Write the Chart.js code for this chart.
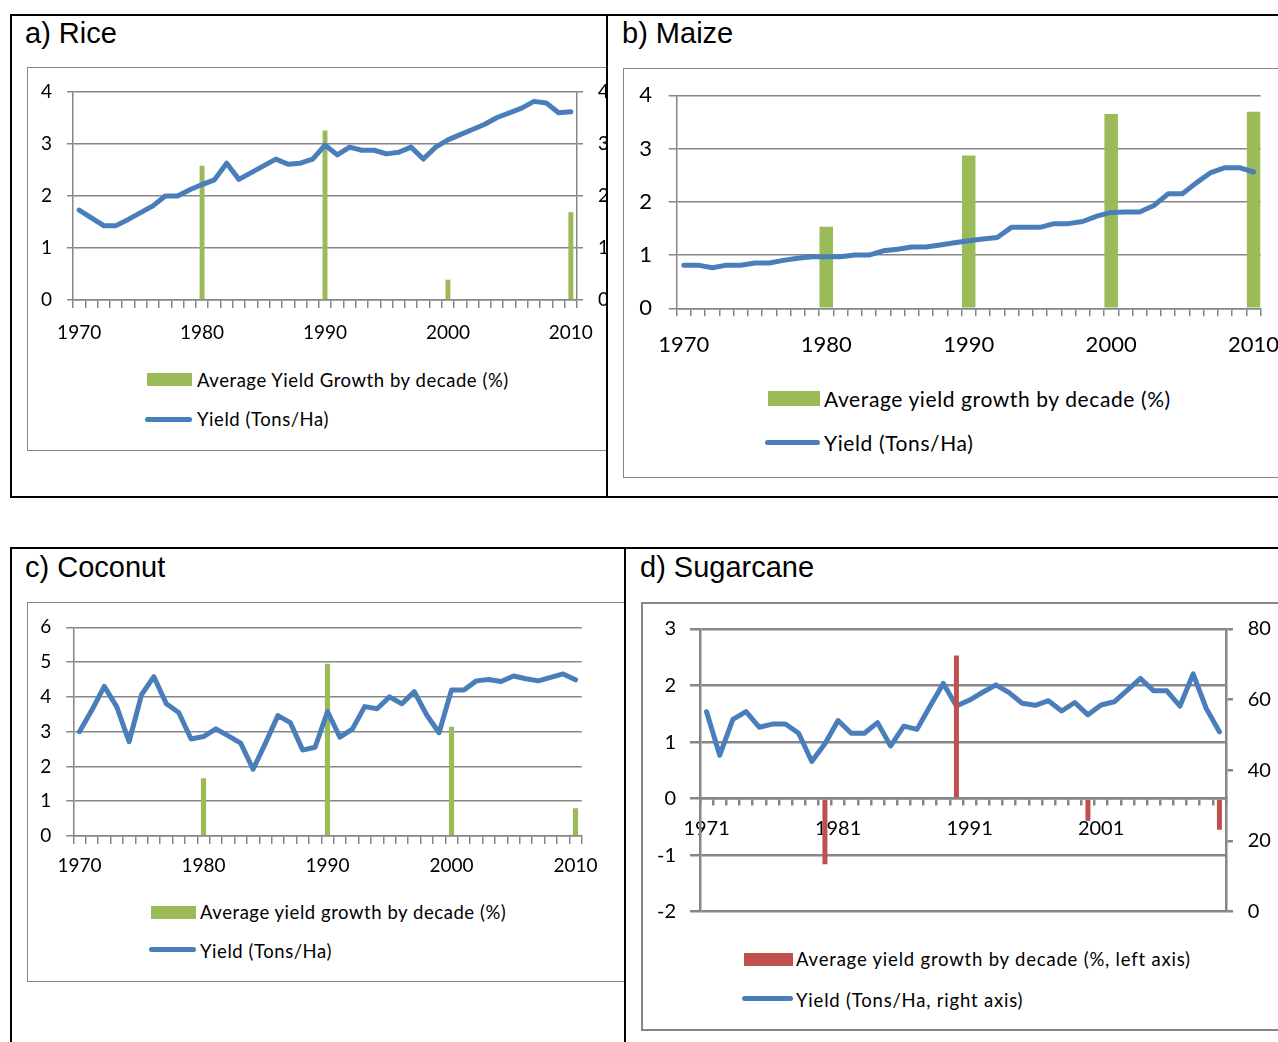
<!DOCTYPE html>
<html>
<head>
<meta charset="utf-8">
<script src="https://cdn.jsdelivr.net/npm/chart.js@4.4.1/dist/chart.umd.min.js"></script>
<style>
  html, body { margin: 0; padding: 0; background: #fff; }
  body { width: 1278px; height: 1042px; position: relative; overflow: hidden; font-family: Lato, sans-serif; }
  .box { position: absolute; border: 2px solid #000; box-sizing: border-box; z-index: 5; }
  .divider { position: absolute; width: 2px; background: #000; z-index: 6; }
  .frame { position: absolute; border: 1.5px solid #868686; box-sizing: border-box; }
  .title { position: absolute; font-family: "Liberation Sans", Arial, sans-serif; font-size: 29px; line-height: 30px; color: #000; white-space: nowrap; }
  .plot { position: absolute; }
  .leg { position: absolute; white-space: nowrap; color: #000; font-family: Lato, sans-serif; }
  .sw { position: absolute; }
  .swline { position: absolute; height: 5px; border-radius: 3px; background: #4A7EBB; }
</style>
</head>
<body>
<div class="box" style="left:10px; top:14px; width:1300px; height:484px; background:transparent;"></div>
<div class="divider" style="left:606px; top:14px; height:484px;"></div>
<div class="box" style="left:10px; top:547px; width:1300px; height:600px; background:transparent;"></div>
<div class="divider" style="left:624px; top:547px; height:500px;"></div>

<div class="frame" style="left:27px; top:67px; width:581px; height:384px;"></div>
<div class="frame" style="left:623px; top:68px; width:700px; height:410px;"></div>
<div class="frame" style="left:27px; top:602px; width:599px; height:380px;"></div>
<div class="frame" style="left:641px; top:602px; width:700px; height:429px; border-width:2.5px;"></div>

<div class="title" style="left:25px; top:18px;">a) Rice</div>
<div class="title" style="left:622px; top:18px;">b) Maize</div>
<div class="title" style="left:25px; top:552px;">c) Coconut</div>
<div class="title" style="left:640px; top:552px;">d) Sugarcane</div>

<div class="plot" style="left:28px; top:68px; width:578px; height:282px;"><canvas id="rice-chart"></canvas></div>
<div class="plot" style="left:624px; top:69px; width:654px; height:291px;"><canvas id="maize-chart"></canvas></div>
<div class="plot" style="left:28px; top:603px; width:597px; height:285px;"><canvas id="coconut-chart"></canvas></div>
<div class="plot" style="left:643px; top:604px; width:635px; height:330px;"><canvas id="sugar-chart"></canvas></div>

<!-- legends -->
<div class="sw" style="left:147px; top:373px; width:45px; height:13px; background:#9BBB59;"></div>
<div class="leg" style="left:197px; top:368px; font-size:18.5px; line-height:24px; letter-spacing:0.55px;">Average Yield Growth by decade (%)</div>
<div class="swline" style="left:145px; top:417px; width:47px;"></div>
<div class="leg" style="left:197px; top:407px; font-size:18.5px; line-height:24px; letter-spacing:0.55px;">Yield (Tons/Ha)</div>

<div class="sw" style="left:768px; top:391px; width:52px; height:15px; background:#9BBB59;"></div>
<div class="leg" style="left:824px; top:386px; font-size:21px; line-height:26px; letter-spacing:0.6px;">Average yield growth by decade (%)</div>
<div class="swline" style="left:765px; top:440px; width:55px;"></div>
<div class="leg" style="left:824px; top:430px; font-size:21px; line-height:26px; letter-spacing:0.6px;">Yield (Tons/Ha)</div>

<div class="sw" style="left:151px; top:906px; width:45px; height:13px; background:#9BBB59;"></div>
<div class="leg" style="left:200px; top:900px; font-size:18.5px; line-height:24px; letter-spacing:0.55px;">Average yield growth by decade (%)</div>
<div class="swline" style="left:149px; top:947px; width:47px;"></div>
<div class="leg" style="left:200px; top:939px; font-size:18.5px; line-height:24px; letter-spacing:0.55px;">Yield (Tons/Ha)</div>

<div class="sw" style="left:744px; top:953px; width:49px; height:13px; background:#C0504D;"></div>
<div class="leg" style="left:796px; top:947px; font-size:18.5px; line-height:24px; letter-spacing:0.8px;">Average yield growth by decade (%, left axis)</div>
<div class="swline" style="left:742px; top:996px; width:51px;"></div>
<div class="leg" style="left:796px; top:988px; font-size:18.5px; line-height:24px; letter-spacing:0.8px;">Yield (Tons/Ha, right axis)</div>

<script>
// Categories
const years = [1970, 1971, 1972, 1973, 1974, 1975, 1976, 1977, 1978, 1979, 1980, 1981, 1982, 1983, 1984, 1985, 1986, 1987, 1988, 1989, 1990, 1991, 1992, 1993, 1994, 1995, 1996, 1997, 1998, 1999, 2000, 2001, 2002, 2003, 2004, 2005, 2006, 2007, 2008, 2009, 2010];
const sugarYears = [1971, 1972, 1973, 1974, 1975, 1976, 1977, 1978, 1979, 1980, 1981, 1982, 1983, 1984, 1985, 1986, 1987, 1988, 1989, 1990, 1991, 1992, 1993, 1994, 1995, 1996, 1997, 1998, 1999, 2000, 2001, 2002, 2003, 2004, 2005, 2006, 2007, 2008, 2009, 2010];
const decadeYears = [1980, 1990, 2000, 2010];

// Yield (Tons/Ha)
const riceYield = [1.73, 1.58, 1.43, 1.43, 1.55, 1.68, 1.81, 2.0, 2.0, 2.12, 2.22, 2.31, 2.63, 2.32, 2.45, 2.58, 2.71, 2.61, 2.63, 2.71, 2.98, 2.79, 2.94, 2.88, 2.88, 2.81, 2.84, 2.94, 2.71, 2.94, 3.08, 3.18, 3.28, 3.38, 3.51, 3.6, 3.69, 3.82, 3.79, 3.6, 3.62];
const maizeYield = [0.81, 0.81, 0.76, 0.81, 0.81, 0.85, 0.85, 0.9, 0.94, 0.97, 0.97, 0.97, 1.0, 1.0, 1.08, 1.11, 1.15, 1.15, 1.19, 1.23, 1.27, 1.3, 1.33, 1.52, 1.52, 1.52, 1.59, 1.59, 1.63, 1.73, 1.8, 1.81, 1.81, 1.93, 2.15, 2.15, 2.36, 2.55, 2.64, 2.64, 2.56];
const coconutYield = [3.0, 3.62, 4.3, 3.72, 2.71, 4.06, 4.58, 3.8, 3.55, 2.79, 2.86, 3.08, 2.88, 2.67, 1.92, 2.67, 3.46, 3.26, 2.47, 2.55, 3.58, 2.84, 3.07, 3.72, 3.66, 4.0, 3.8, 4.15, 3.48, 2.97, 4.2, 4.2, 4.46, 4.5, 4.44, 4.6, 4.52, 4.46, 4.56, 4.66, 4.49];
const sugarYield = [56.6, 44.3, 54.4, 56.6, 52.2, 53.1, 53.1, 50.5, 42.5, 47.5, 54.1, 50.5, 50.5, 53.5, 46.9, 52.5, 51.6, 58.2, 64.6, 58.2, 59.9, 62.1, 64.2, 62.0, 59.0, 58.4, 59.7, 56.8, 59.2, 55.7, 58.5, 59.4, 62.7, 66.0, 62.5, 62.5, 58.2, 67.3, 57.5, 50.9];

// Average yield growth by decade (%)
const riceGrowth = [2.58, 3.26, 0.39, 1.69];
const maizeGrowth = [1.53, 2.87, 3.65, 3.69];
const coconutGrowth = [1.66, 4.95, 3.14, 0.8];
const sugarGrowth = [-1.16, 2.53, -0.39, -0.55];

const GRID = "#868686";
const BLUE = "#4A7EBB";
const GREEN = "#9BBB59";
const RED = "#C0504D";

// put decade values on their year, gaps elsewhere
function decadeBars(cats, values) {
  return cats.map(function (y) {
    const i = decadeYears.indexOf(y);
    return i < 0 ? null : values[i];
  });
}

function drawPanel(id, p) {
  const ctx = document.getElementById(id).getContext("2d");
  const font = { family: "Lato", size: p.fontSize };

  const scales = {
    x: {
      position: p.xPosition || "bottom",
      offset: true,
      grid: { offset: true, drawOnChartArea: false, color: GRID, lineWidth: p.gridWidth, tickLength: p.xTickLen },
      border: { color: GRID, width: p.axisWidth },
      ticks: {
        autoSkip: false, maxRotation: 0, minRotation: 0, padding: p.xPad, color: "#000", font: font,
        callback: function (v, i) { return i % 10 === 0 ? this.getLabelForValue(v) : ""; },
      },
      afterFit: function (s) {
        if (p.xHeight) s.height = p.xHeight;
        s.paddingLeft = 0;
        s.paddingRight = 0;
      },
    },
    y: {
      position: "left",
      min: p.yMin,
      max: p.yMax,
      grid: { color: GRID, lineWidth: p.gridWidth, tickLength: p.yTickLen },
      border: { color: GRID, width: p.axisWidth },
      ticks: { stepSize: p.yStep, padding: p.yPad, color: "#000", font: font },
      afterFit: function (s) { s.width = p.yWidth; s.paddingTop = 0; s.paddingBottom = 0; },
    },
  };

  if (p.y1) {
    scales.y1 = {
      position: "right",
      min: p.y1.min,
      max: p.y1.max,
      grid: { drawOnChartArea: false, color: GRID, lineWidth: p.gridWidth, tickLength: p.y1.tickLen },
      border: { color: GRID, width: p.axisWidth },
      ticks: { stepSize: p.y1.step, padding: p.y1.pad, color: "#000", font: font },
      afterFit: function (s) { s.width = p.y1.width; s.paddingTop = 0; s.paddingBottom = 0; },
    };
  }

  return new Chart(ctx, {
    type: "bar",
    data: {
      labels: p.labels,
      datasets: [
        {
          type: "line",
          label: "Yield",
          data: p.yieldData,
          yAxisID: p.y1 ? "y1" : "y",
          borderColor: BLUE,
          borderWidth: 5,
          borderCapStyle: "round",
          borderJoinStyle: "round",
          pointRadius: 0,
          tension: 0,
          fill: false,
          order: p.barsOnTop ? 1 : 0,
        },
        {
          type: "bar",
          label: "Average yield growth by decade (%)",
          data: decadeBars(p.labels, p.growthData),
          yAxisID: "y",
          backgroundColor: p.barColor,
          borderWidth: 0,
          barPercentage: p.barPct,
          categoryPercentage: 1,
          order: p.barsOnTop ? 0 : 1,
        },
      ],
    },
    options: {
      responsive: true,
      maintainAspectRatio: false,
      animation: false,
      layout: { padding: p.padding },
      plugins: { legend: { display: false }, tooltip: { enabled: false } },
      scales: scales,
    },
  });
}

drawPanel("rice-chart", {
  labels: years, yieldData: riceYield, growthData: riceGrowth, barColor: GREEN, barPct: 0.4,
  padding: { top: 24, left: 0, right: 0, bottom: 0 },
  fontSize: 19, gridWidth: 1.5, axisWidth: 1.5,
  yMin: 0, yMax: 4, yStep: 1, yWidth: 45, yTickLen: 6, yPad: 15,
  y1: { min: 0, max: 4, step: 1, width: 29, tickLen: 6, pad: 15 },
  xHeight: 50, xTickLen: 8, xPad: 13,
});

drawPanel("maize-chart", {
  labels: years, yieldData: maizeYield, growthData: maizeGrowth, barColor: GREEN, barPct: 0.95,
  padding: { top: 26.3, left: 0, right: 17.3, bottom: 0 },
  fontSize: 22, gridWidth: 1.5, axisWidth: 1.5,
  yMin: 0, yMax: 4, yStep: 1, yWidth: 52.7, yTickLen: 8, yPad: 16.6,
  xHeight: 51.7, xTickLen: 8, xPad: 15.5,
});

drawPanel("coconut-chart", {
  labels: years, yieldData: coconutYield, growthData: coconutGrowth, barColor: GREEN, barPct: 0.42,
  padding: { top: 24.3, left: 0, right: 43.3, bottom: 0 },
  fontSize: 19, gridWidth: 1.5, axisWidth: 1.5,
  yMin: 0, yMax: 6, yStep: 1, yWidth: 45.3, yTickLen: 7, yPad: 15,
  xHeight: 52, xTickLen: 8, xPad: 10.6,
});

drawPanel("sugar-chart", {
  labels: sugarYears, yieldData: sugarYield, growthData: sugarGrowth, barColor: RED, barPct: 0.38,
  barsOnTop: true,
  padding: { top: 25, left: 0, right: 0, bottom: 22.3 },
  fontSize: 20, gridWidth: 2.5, axisWidth: 2.5,
  yMin: -2, yMax: 3, yStep: 1, yWidth: 57, yTickLen: 10, yPad: 14,
  y1: { min: 0, max: 80, step: 20, width: 52, tickLen: 7, pad: 14.7 },
  xPosition: { y: 0 }, xTickLen: 6, xPad: 12.3,
});
</script>
</body>
</html>
